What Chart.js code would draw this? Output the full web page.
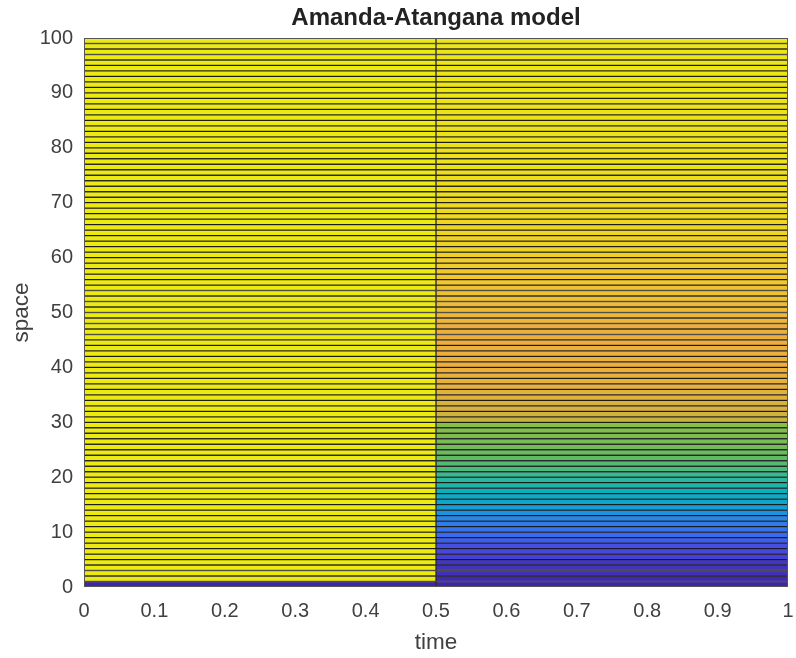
<!DOCTYPE html>
<html>
<head>
<meta charset="utf-8">
<title>Amanda-Atangana model</title>
<style>
  html, body { margin: 0; padding: 0; background: #fff; }
  #wrap { width: 796px; height: 658px; }
</style>
<script src="https://cdn.jsdelivr.net/npm/chart.js@4.4.1/dist/chart.umd.min.js"></script>
</head>
<body>
<div id="wrap"><canvas id="surf" width="796" height="658"></canvas></div>
<script>
// grid of the surface: two time cells, one row per unit of space
const timeEdges = [0, 0.5, 1];
const spaceRows = Array.from({ length: 100 }, (_, i) => i);

// colour value of each row (0 = dark blue, 1 = yellow)
const uAtT0 = [
  0.00, 1, 1, 1, 1, 1, 1, 1, 1, 1,
  1, 1, 1, 1, 1, 1, 1, 1, 1, 1,
  1, 1, 1, 1, 1, 1, 1, 1, 1, 1,
  1, 1, 1, 1, 1, 1, 1, 1, 1, 1,
  1, 1, 1, 1, 1, 1, 1, 1, 1, 1,
  1, 1, 1, 1, 1, 1, 1, 1, 1, 1,
  1, 1, 1, 1, 1, 1, 1, 1, 1, 1,
  1, 1, 1, 1, 1, 1, 1, 1, 1, 1,
  1, 1, 1, 1, 1, 1, 1, 1, 1, 1,
  1, 1, 1, 1, 1, 1, 1, 1, 1, 1,
];
const uAtT05 = [
  0.00, 0.01, 0.03, 0.04, 0.05, 0.08, 0.10, 0.12, 0.16, 0.19,
  0.22, 0.25, 0.28, 0.33, 0.38, 0.42, 0.46, 0.50, 0.55, 0.58,
  0.61, 0.64, 0.66, 0.68, 0.70, 0.71, 0.72, 0.73, 0.74, 0.75,
  0.83, 0.84, 0.85, 0.85, 0.86, 0.86, 0.87, 0.87, 0.87, 0.88,
  0.88, 0.88, 0.88, 0.88, 0.88, 0.88, 0.88, 0.88, 0.89, 0.89,
  0.90, 0.90, 0.91, 0.91, 0.91, 0.92, 0.92, 0.92, 0.93, 0.93,
  0.93, 0.94, 0.94, 0.94, 0.95, 0.95, 0.95, 0.96, 0.96, 0.96,
  0.96, 0.97, 0.97, 0.97, 0.97, 0.97, 0.98, 0.98, 0.98, 0.98,
  0.98, 0.98, 0.98, 0.98, 0.98, 0.98, 0.98, 0.98, 0.98, 0.99,
  0.99, 0.99, 0.99, 0.99, 0.99, 0.99, 0.99, 0.99, 0.99, 0.99,
];

const xTicks = [0, 0.1, 0.2, 0.3, 0.4, 0.5, 0.6, 0.7, 0.8, 0.9, 1];
const yTicks = [0, 10, 20, 30, 40, 50, 60, 70, 80, 90, 100];

// parula-like colour map
const parulaStops = [
  [0.00, [62, 38, 168]],
  [0.10, [71, 70, 225]],
  [0.20, [55, 110, 240]],
  [0.30, [35, 140, 228]],
  [0.40, [15, 162, 210]],
  [0.50, [10, 176, 186]],
  [0.60, [50, 186, 150]],
  [0.68, [95, 186, 100]],
  [0.75, [135, 190, 68]],
  [0.82, [195, 180, 60]],
  [0.88, [238, 175, 58]],
  [0.93, [240, 205, 40]],
  [1.00, [236, 234, 16]],
];

const parula = (v) => {
  for (let i = 1; i < parulaStops.length; i++) {
    const [v1, c1] = parulaStops[i];
    if (v <= v1) {
      const [v0, c0] = parulaStops[i - 1];
      const f = (v - v0) / (v1 - v0);
      const c = c0.map((ch, k) => Math.round(ch + (c1[k] - ch) * f));
      return `rgb(${c[0]}, ${c[1]}, ${c[2]})`;
    }
  }
  return 'rgb(236, 234, 16)';
};

const FONT = '"Liberation Sans", Arial, Helvetica, sans-serif';
const TEXT = '#404040';

const column = (t0, t1, values, label) => ({
  label,
  data: spaceRows.map((s) => ({ x: [t0, t1], y: s + 0.5 })),
  backgroundColor: values.map(parula),
  borderColor: 'rgba(0, 0, 0, 0.8)',
  borderWidth: 1,
  borderSkipped: false,
  grouped: false,
  barPercentage: 1,
  categoryPercentage: 1,
});

const framePlugin = {
  id: 'frame',
  afterDatasetsDraw(chart) {
    const { ctx, chartArea: a } = chart;
    ctx.save();
    ctx.strokeStyle = '#555';
    ctx.lineWidth = 1;
    ctx.strokeRect(a.left + 0.5, a.top + 0.5, a.width - 1, a.height - 1);
    ctx.restore();
  },
};

new Chart(document.getElementById('surf'), {
  type: 'bar',
  data: {
    datasets: [
      column(timeEdges[0], timeEdges[1], uAtT0, 't = 0'),
      column(timeEdges[1], timeEdges[2], uAtT05, 't = 0.5'),
    ],
  },
  options: {
    indexAxis: 'y',
    responsive: false,
    animation: false,
    layout: { padding: { left: 0, right: 8, top: 0, bottom: 0 } },
    plugins: {
      legend: { display: false },
      tooltip: { enabled: false },
      title: {
        display: true,
        text: 'Amanda-Atangana model',
        fullSize: false,
        color: '#222',
        font: { family: FONT, size: 24, weight: 'bold' },
        padding: { top: 3.6, bottom: 5.6 },
      },
    },
    scales: {
      x: {
        type: 'linear',
        min: 0,
        max: 1,
        grid: { display: false, drawTicks: false },
        border: { display: false },
        afterBuildTicks: (scale) => { scale.ticks = xTicks.map((value) => ({ value })); },
        afterFit: (scale) => {
          scale.height = 71;
          scale.paddingLeft = 0;
          scale.paddingRight = 0;
        },
        ticks: {
          color: TEXT,
          padding: 12,
          maxRotation: 0,
          font: { family: FONT, size: 20 },
          callback: (value) => String(value),
        },
        title: {
          display: true,
          text: 'time',
          color: TEXT,
          font: { family: FONT, size: 22.5 },
          padding: { top: 0, bottom: 2 },
        },
      },
      y: {
        type: 'linear',
        min: 0,
        max: 100,
        offset: false,
        grid: { display: false, drawTicks: false, offset: false },
        border: { display: false },
        afterBuildTicks: (scale) => { scale.ticks = yTicks.map((value) => ({ value })); },
        afterFit: (scale) => { scale.width = 84; },
        ticks: {
          color: TEXT,
          padding: 11,
          font: { family: FONT, size: 20 },
          callback: (value) => String(value),
        },
        title: {
          display: true,
          text: 'space',
          color: TEXT,
          font: { family: FONT, size: 22.5 },
          padding: { top: 8, bottom: 0 },
        },
      },
    },
  },
  plugins: [framePlugin],
});
</script>
</body>
</html>
